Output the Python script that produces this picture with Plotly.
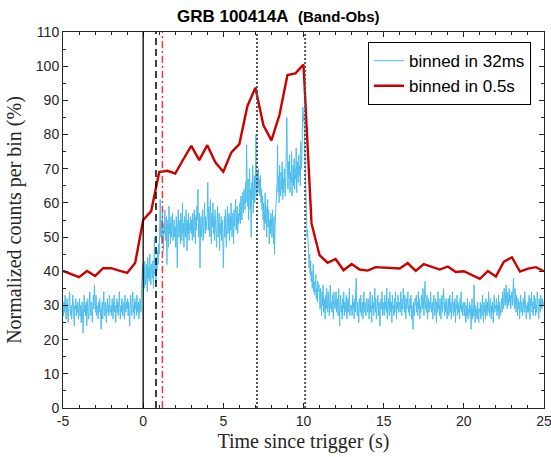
import numpy as np
import plotly.graph_objects as go

# ---- data: 32 ms binned light curve, one list per second starting at t = -5 ... 24
blue_seconds = [-5, -4, -3, -2, -1, 0, 1, 2, 3, 4, 5, 6, 7, 8, 9, 10, 11, 12, 13, 14,
                15, 16, 17, 18, 19, 20, 21, 22, 23, 24]
blue_step = 0.032
blue_values = [
    [30, 27, 31, 28, 33, 29, 26, 30, 32, 28, 25, 29, 31, 34, 28, 27, 30, 26, 29, 33, 31, 28, 24, 30, 29, 32, 27, 30, 28, 31, 26],
    [29, 32, 27, 30, 25, 28, 31, 26, 22, 29, 33, 28, 30, 27, 31, 24, 29, 32, 28, 26, 30, 34, 29, 27, 31, 28, 25, 30, 33, 29, 36],
    [31, 28, 33, 27, 30, 29, 26, 31, 28, 32, 30, 27, 23, 29, 31, 26, 30, 34, 28, 27, 31, 29, 25, 30, 32, 28, 30, 27, 33, 29, 28],
    [30, 27, 32, 29, 26, 31, 33, 28, 30, 25, 29, 32, 28, 31, 27, 30, 34, 29, 26, 30, 28, 32, 29, 27, 31, 30, 26, 33, 29, 28, 31],
    [29, 32, 27, 31, 28, 24, 30, 33, 29, 27, 31, 34, 28, 30, 26, 32, 29, 31, 27, 33, 30, 28, 31, 26, 29, 32, 30, 28, 35, 38, 42],
    [38, 41, 35, 43, 39, 36, 42, 40, 34, 44, 38, 41, 37, 45, 39, 36, 42, 40, 38, 43, 35, 41, 50, 39, 42, 37, 44, 40, 46, 42, 48],
    [45, 52, 61, 50, 55, 48, 57, 53, 46, 54, 51, 58, 49, 53, 56, 42, 52, 55, 47, 59, 51, 54, 48, 56, 50, 53, 57, 49, 52, 55, 50],
    [53, 47, 56, 51, 41, 54, 58, 50, 52, 55, 48, 57, 53, 49, 60, 51, 54, 47, 56, 52, 50, 58, 53, 46, 55, 51, 57, 49, 54, 52, 56],
    [51, 55, 49, 57, 53, 50, 58, 54, 48, 56, 52, 59, 55, 64, 50, 53, 57, 41, 52, 56, 50, 54, 58, 49, 55, 53, 60, 51, 56, 52, 54],
    [57, 66, 52, 59, 54, 50, 61, 55, 48, 57, 53, 60, 51, 56, 49, 58, 54, 52, 47, 55, 59, 50, 53, 57, 46, 54, 51, 56, 49, 55, 52],
    [41, 52, 56, 50, 58, 53, 47, 55, 59, 51, 54, 57, 49, 56, 52, 60, 54, 50, 57, 55, 48, 58, 53, 56, 61, 52, 55, 59, 51, 57, 54],
    [56, 60, 54, 62, 58, 55, 63, 59, 57, 64, 61, 58, 66, 60, 77, 63, 59, 67, 55, 62, 70, 58, 64, 50, 66, 61, 71, 57, 63, 68, 60],
    [64, 80, 66, 62, 69, 65, 70, 63, 67, 62, 68, 60, 64, 58, 62, 55, 60, 52, 57, 63, 54, 59, 50, 56, 61, 53, 58, 48, 55, 51, 57],
    [55, 50, 58, 52, 48, 56, 45, 53, 57, 60, 62, 66, 77, 63, 68, 60, 71, 65, 62, 69, 64, 72, 61, 67, 63, 70, 66, 62, 68, 73, 85],
    [70, 64, 72, 67, 74, 63, 69, 66, 75, 62, 68, 71, 65, 73, 64, 70, 67, 76, 63, 69, 72, 66, 74, 68, 71, 65, 78, 70, 73, 82, 88],
    [84, 86, 78, 72, 64, 58, 55, 50, 52, 47, 44, 41, 45, 39, 43, 37, 40, 35, 38, 42, 34, 37, 33, 36, 39, 32, 35, 31, 37, 34, 36],
    [33, 29, 35, 31, 27, 34, 30, 36, 28, 32, 30, 26, 33, 29, 35, 31, 28, 34, 30, 27, 32, 36, 29, 31, 28, 33, 30, 26, 34, 31, 29],
    [31, 34, 28, 32, 30, 27, 35, 29, 24, 31, 33, 28, 30, 26, 32, 29, 34, 27, 31, 28, 30, 33, 26, 29, 32, 28, 31, 35, 27, 30, 29],
    [30, 27, 33, 29, 31, 26, 32, 28, 34, 38, 30, 27, 31, 29, 25, 32, 30, 28, 33, 27, 29, 31, 26, 30, 34, 28, 31, 29, 27, 32, 30],
    [28, 32, 29, 26, 31, 34, 28, 30, 25, 33, 29, 31, 27, 30, 35, 28, 32, 26, 30, 29, 33, 27, 31, 28, 24, 30, 32, 29, 34, 27, 31],
    [30, 27, 33, 29, 31, 28, 35, 26, 30, 32, 29, 27, 34, 30, 28, 31, 25, 33, 29, 30, 27, 32, 28, 34, 30, 26, 31, 29, 33, 28, 30],
    [31, 28, 34, 30, 27, 32, 29, 35, 31, 28, 33, 30, 26, 32, 29, 31, 34, 28, 30, 27, 32, 29, 33, 26, 30, 28, 23, 31, 29, 27, 32],
    [30, 33, 28, 31, 27, 34, 29, 32, 26, 30, 28, 33, 31, 29, 35, 30, 27, 32, 37, 29, 31, 28, 33, 26, 30, 32, 28, 31, 29, 34, 30],
    [28, 31, 26, 30, 33, 29, 27, 32, 30, 25, 31, 28, 34, 29, 30, 27, 32, 29, 26, 31, 33, 28, 30, 35, 29, 27, 31, 28, 32, 30, 26],
    [30, 32, 27, 29, 33, 28, 31, 26, 30, 34, 29, 27, 31, 28, 32, 25, 30, 29, 33, 27, 31, 28, 30, 26, 32, 29, 34, 28, 30, 27, 31],
    [29, 27, 31, 28, 25, 30, 27, 32, 26, 29, 28, 31, 27, 30, 23, 28, 32, 26, 29, 27, 36, 28, 25, 30, 27, 29, 26, 31, 28, 25, 29],
    [28, 31, 26, 30, 27, 33, 29, 25, 31, 28, 30, 26, 32, 29, 27, 31, 28, 34, 30, 27, 29, 32, 26, 30, 28, 31, 25, 29, 33, 28, 30],
    [29, 32, 27, 30, 28, 33, 26, 31, 29, 27, 30, 32, 28, 34, 31, 29, 35, 32, 30, 33, 36, 31, 29, 34, 32, 30, 35, 31, 33, 29, 32],
    [34, 30, 33, 38, 31, 29, 35, 32, 28, 33, 30, 27, 32, 29, 31, 26, 30, 33, 28, 31, 29, 27, 32, 30, 28, 34, 29, 31, 26, 30, 28],
    [31, 28, 33, 29, 26, 32, 30, 34, 28, 31, 27, 30, 33, 29, 32, 27, 30, 28, 34, 31, 29, 26, 32, 30, 28, 33, 31, 29, 32, 30, 31],
]

# ---- data: 0.5 s binned light curve
red_t = [-5, -4.5, -4, -3.5, -3, -2.5, -2, -1.5, -1, -0.5, 0, 0.5, 1, 1.5, 2, 2.5, 3, 3.5, 4, 4.5,
         5, 5.5, 6, 6.5, 7, 7.5, 8, 8.5, 9, 9.5, 10, 10.5, 11, 11.5, 12, 12.5, 13, 13.5, 14, 14.5,
         15, 15.5, 16, 16.5, 17, 17.5, 18, 18.5, 19, 19.5, 20, 20.5, 21, 21.5, 22, 22.5, 23, 23.5,
         24, 24.5, 25]
red_v = [40.1, 39.2, 38.3, 40.1, 38.6, 40.9, 40.9, 40.2, 39.5, 42.4, 55.0, 57.6, 69.0, 69.4, 68.6,
         72.7, 76.7, 72.5, 76.9, 71.9, 69.1, 74.8, 77.2, 88.3, 93.7, 82.7, 78.3, 85.7, 97.4, 97.9,
         100.5, 54.0, 44.7, 42.5, 43.6, 40.3, 42.1, 40.5, 40.2, 41.2, 41.1, 41.0, 40.8, 42.4, 40.1,
         42.1, 41.3, 40.5, 41.4, 39.8, 40.0, 38.9, 37.8, 40.1, 38.5, 42.8, 44.1, 39.9, 40.8, 41.2, 40.0]

# ---- data: marker times (s)
solid_t = [0.0]
dashed_t = [0.8]
dashdot_t = [1.2]
dotted_t = [7.1, 10.1]

x_ticks = [-5, 0, 5, 10, 15, 20, 25]
y_ticks = [0, 10, 20, 30, 40, 50, 60, 70, 80, 90, 100, 110]

blue_t, blue_v = [], []
for s, vals in zip(blue_seconds, blue_values):
    for j, v in enumerate(vals):
        blue_t.append(s + blue_step * j)
        blue_v.append(v)

fig = go.Figure()
fig.add_trace(go.Scatter(x=blue_t, y=blue_v, mode="lines", name="binned in 32ms",
                         line=dict(color="#4DBEEE", width=1)))
fig.add_trace(go.Scatter(x=red_t, y=red_v, mode="lines", name="binned in 0.5s",
                         line=dict(color="#CC0000", width=2.4)))

def vline(t, color, dash, width):
    fig.add_shape(type="line", xref="x", yref="paper", x0=t, x1=t, y0=0, y1=1,
                  line=dict(color=color, dash=dash, width=width), layer="above")

for t in solid_t:
    vline(t, "black", "solid", 1.3)
for t in dashed_t:
    vline(t, "black", "7px,4px", 1.5)
for t in dashdot_t:
    vline(t, "#FF3333", "7px,3px,2px,3px", 1.5)
for t in dotted_t:
    vline(t, "#555555", "2px,2px", 2)

tickfont = dict(family="Liberation Sans, Arial, sans-serif", size=14, color="#262626")
titlefont = dict(family="Liberation Serif, Times New Roman, serif", size=20, color="#262626")

fig.update_layout(
    width=551, height=457,
    margin=dict(l=63, r=7, t=32, b=49),
    paper_bgcolor="white", plot_bgcolor="white",
    title=dict(text="<b>GRB 100414A</b>  <b><span style='font-size:15px'>(Band-Obs)</span></b>",
               x=0.505, xref="container", xanchor="center", y=0.965, yref="container",
               yanchor="middle", font=dict(family="Liberation Sans, Arial, sans-serif", size=17, color="black")),
    legend=dict(x=0.973, y=0.973, xanchor="right", yanchor="top", bgcolor="white",
                bordercolor="black", borderwidth=1,
                font=dict(family="Liberation Sans, Arial, sans-serif", size=17, color="black"),
                tracegroupgap=0, itemwidth=30),
    showlegend=True,
)
fig.update_xaxes(range=[-5, 25], tickvals=x_ticks, ticktext=[str(v) for v in x_ticks],
                 ticks="inside", ticklen=5, tickcolor="#262626", showline=True, linecolor="#262626",
                 linewidth=1, mirror="ticks", showgrid=False, zeroline=False, tickfont=tickfont,
                 automargin=False, ticklabeloverflow="allow",
                 minor=dict(dtick=1, tick0=0, ticks="inside", ticklen=3, tickcolor="#262626", showgrid=False),
                 title=dict(text="Time since trigger (s)", font=titlefont, standoff=6))
fig.update_yaxes(range=[0, 110], tickvals=y_ticks, ticktext=[str(v) for v in y_ticks],
                 ticks="inside", ticklen=5, tickcolor="#262626", showline=True, linecolor="#262626",
                 linewidth=1, mirror="ticks", showgrid=False, zeroline=False, tickfont=tickfont,
                 automargin=False, ticklabeloverflow="allow",
                 minor=dict(dtick=5, tick0=0, ticks="inside", ticklen=3, tickcolor="#262626", showgrid=False),
                 title=dict(text="Normalized counts per bin (%)", font=titlefont, standoff=8))

fig.write_html("out.html", config={"displayModeBar": False},
               post_script="document.body.style.margin='0';document.body.style.padding='0';")
